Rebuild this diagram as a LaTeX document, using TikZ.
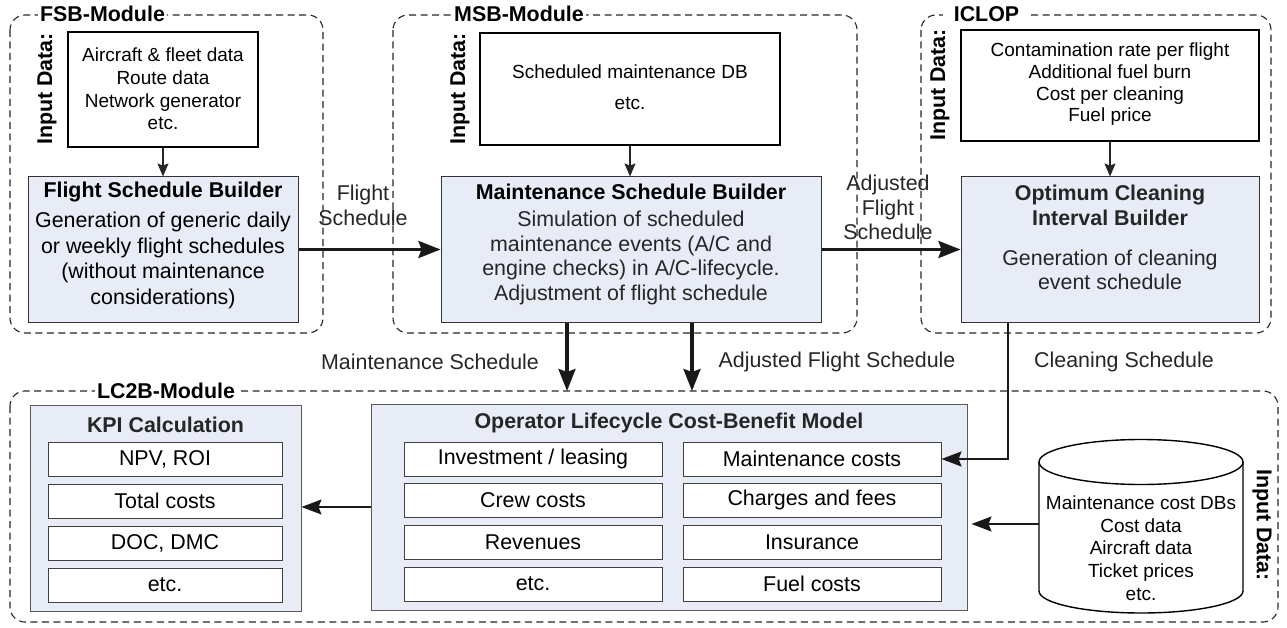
\documentclass[tikz,border=0pt]{standalone}
\usepackage{fontspec}
\setmainfont{Liberation Sans}
\usetikzlibrary{arrows.meta}
\definecolor{boxfill}{RGB}{232,236,247}
\definecolor{dgrey}{RGB}{38,38,38}
\begin{document}
\begin{tikzpicture}[x=1pt,y=-1pt,
  module/.style={draw=black!85, dash pattern=on 7pt off 4.5pt, line width=1.1pt, rounded corners=15pt},
  modlabel/.style={fill=white, inner xsep=2pt, inner ysep=1pt, font=\fontsize{21.4}{25}\selectfont\bfseries},
  inbox/.style={draw=black, line width=1.4pt, fill=white, inner sep=0pt},
  builder/.style={draw=black!80, line width=1pt, fill=boxfill, inner sep=0pt},
  panel/.style={draw=black!65, line width=1pt, fill=boxfill, inner sep=0pt},
  subbox/.style={draw=black!75, line width=1pt, fill=white, inner sep=0pt, minimum height=34pt, font=\fontsize{21.4}{25}\selectfont},
  titlefont/.style={font=\fontsize{21.4}{25}\selectfont\bfseries, inner sep=0pt},
  smalltext/.style={align=center, inner sep=0pt, font=\fontsize{19}{#1}\selectfont},
  bodytext/.style={align=center, inner sep=0pt, text=dgrey, font=\fontsize{21.4}{#1}\selectfont},
  lbltext/.style={align=center, inner sep=0pt, text=dgrey, font=\fontsize{21.4}{#1}\selectfont},
  thinarrow/.style={draw=black!85, line width=1.2pt, -{Stealth[length=13pt,width=11pt,inset=2pt]}},
  thickarrow/.style={draw=black!90, line width=3.2pt, -{Stealth[length=22pt,width=17pt,inset=3pt]}},
  midarrow/.style={draw=black!90, line width=#1, -{Stealth[length=20pt,width=15pt,inset=3pt]}}
]
\useasboundingbox (0,0) rectangle (1287,628);

% ---------- modules ----------
\draw[module] (10,15) rectangle (323,333);
\draw[module] (393,15) rectangle (857,333);
\draw[module] (921,15) rectangle (1271,333);
\draw[module] (10,391) rectangle (1278,622);
\node[modlabel] (fsbmod) at (102.5,14) {FSB-Module};
\node[modlabel] (msbmod) at (519,14) {MSB-Module};
\node[modlabel, inner xsep=11pt] (iclmod) at (986.5,14) {ICLOP};
\node[modlabel] (lcmod) at (166,391) {LC2B-Module};

% ---------- input data labels ----------
\node[titlefont, rotate=90] (fsbid) at (47,89) {Input Data:};
\node[titlefont, rotate=90] (msbid) at (460,89) {Input Data:};
\node[titlefont, rotate=90] (iclid) at (940,85) {Input Data:};
\node[titlefont, rotate=-90] (lcid) at (1262,525) {Input Data:};

% ---------- input boxes ----------
\node[inbox, minimum width=190pt, minimum height=115pt] (fsbin) at (163,89.5) {};
\node[smalltext=22.7] (fsbintxt) at (163,89) {Aircraft \& fleet data\\Route data\\Network generator\\etc.};
\node[inbox, minimum width=300pt, minimum height=112pt] (msbin) at (630,89) {};
\node[smalltext=31] (msbintxt) at (630,87.5) {Scheduled maintenance DB\\etc.};
\node[inbox, minimum width=298pt, minimum height=111pt] (iclin) at (1110,85.5) {};
\node[smalltext=21.7] (iclintxt) at (1110,84.5) {Contamination rate per flight\\Additional fuel burn\\Cost per cleaning\\Fuel price};

% ---------- builders ----------
\node[builder, minimum width=270pt, minimum height=145pt] (fsb) at (163,249.5) {};
\node[titlefont] (fsbtitle) at (163,192) {Flight Schedule Builder};
\node[bodytext=25.7, text=black] (fsbbody) at (163,260.5) {Generation of generic daily\\or weekly flight schedules\\(without maintenance\\considerations)};

\node[builder, minimum width=380pt, minimum height=145pt] (msb) at (631,249.5) {};
\node[titlefont] (msbtitle) at (631,192) {Maintenance Schedule Builder};
\node[bodytext=24.7] (msbbody) at (631,258) {Simulation of scheduled\\maintenance events (A/C and\\engine checks) in A/C-lifecycle.\\Adjustment of flight schedule};

\node[builder, minimum width=298pt, minimum height=145pt] (icl) at (1110,249.5) {};
\node[titlefont, align=center, text=dgrey] (icltitle) at (1110,205.5) {Optimum Cleaning\\Interval Builder};
\node[bodytext=24] (iclbody) at (1110,270) {Generation of cleaning\\event schedule};

% ---------- KPI ----------
\node[panel, minimum width=271pt, minimum height=206pt] (kpi) at (165.5,508) {};
\node[titlefont, text=dgrey] (kpititle) at (165.5,425) {KPI Calculation};
\node[subbox, minimum width=234pt] (k1) at (165,459.5) {NPV, ROI};
\node[subbox, minimum width=234pt] (k2) at (165,501) {Total costs};
\node[subbox, minimum width=234pt] (k3) at (165,543) {DOC, DMC};
\node[subbox, minimum width=234pt] (k4) at (165,585) {etc.};

% ---------- OLCBM ----------
\node[panel, minimum width=596pt, minimum height=206pt] (olc) at (669,507) {};
\node[titlefont, text=dgrey] (olctitle) at (669,423) {Operator Lifecycle Cost-Benefit Model};
\node[subbox, minimum width=258pt] (l1) at (533,459) {Investment / leasing};
\node[subbox, minimum width=258pt] (l2) at (533,500) {Crew costs};
\node[subbox, minimum width=258pt] (l3) at (533,542) {Revenues};
\node[subbox, minimum width=258pt] (l4) at (533,584) {etc.};
\node[subbox, minimum width=258pt] (r1) at (812,459) {Maintenance costs};
\node[subbox, minimum width=258pt] (r2) at (812,500) {Charges and fees};
\node[subbox, minimum width=258pt] (r3) at (812,542) {Insurance};
\node[subbox, minimum width=258pt] (r4) at (812,584) {Fuel costs};

% ---------- database cylinder ----------
\draw[line width=1.4pt, fill=white] (1039,462) -- (1039,591)
  .. controls (1039,603.15) and (1084.7,613) .. (1141,613)
  .. controls (1197.3,613) and (1243,603.15) .. (1243,591) -- (1243,462);
\draw[line width=1.4pt, fill=white] (1141,462) ellipse [x radius=102, y radius=22.5];
\node[smalltext=22.75] (dbtxt) at (1141,548) {Maintenance cost DBs\\Cost data\\Aircraft data\\Ticket prices\\etc.};
\coordinate (dbw) at (1039,524);

% ---------- connectors ----------
\draw[thinarrow] (fsbin.south) -- (fsb.north);
\draw[thinarrow] (msbin.south) -- (msbin.south |- msb.north);
\draw[thinarrow] (iclin.south) -- (icl.north);
\draw[thickarrow] (fsb.east) -- (msb.west);
\draw[thickarrow] (msb.east) -- (icl.west);
\coordinate (ms1) at (567,391);
\coordinate (ms2) at (692,391);
\draw[thickarrow] (msb.south -| ms1) -- (ms1);
\draw[thickarrow] (msb.south -| ms2) -- (ms2);
\coordinate (clbend) at (1008,459);
\draw[midarrow=2.2pt] (icl.south -| clbend) -- (clbend) -- (r1.east);
\draw[midarrow=1.8pt, shorten >=4pt] (dbw) -- (dbw -| olc.east);
\draw[midarrow=1.8pt] (olc.west) -- (olc.west -| kpi.east);

% ---------- labels ----------
\node[lbltext=25] (lblfs) at (363,205.5) {Flight\\Schedule};
\node[lbltext=24.5] (lbladj) at (888,207.5) {Adjusted\\Flight\\Schedule};
\node[lbltext=25] (lblms) at (430,362) {Maintenance Schedule};
\node[lbltext=25] (lblafs) at (837,362) {Adjusted Flight Schedule};
\node[lbltext=25] (lblcs) at (1124,362) {Cleaning Schedule};
\end{tikzpicture}
\end{document}
